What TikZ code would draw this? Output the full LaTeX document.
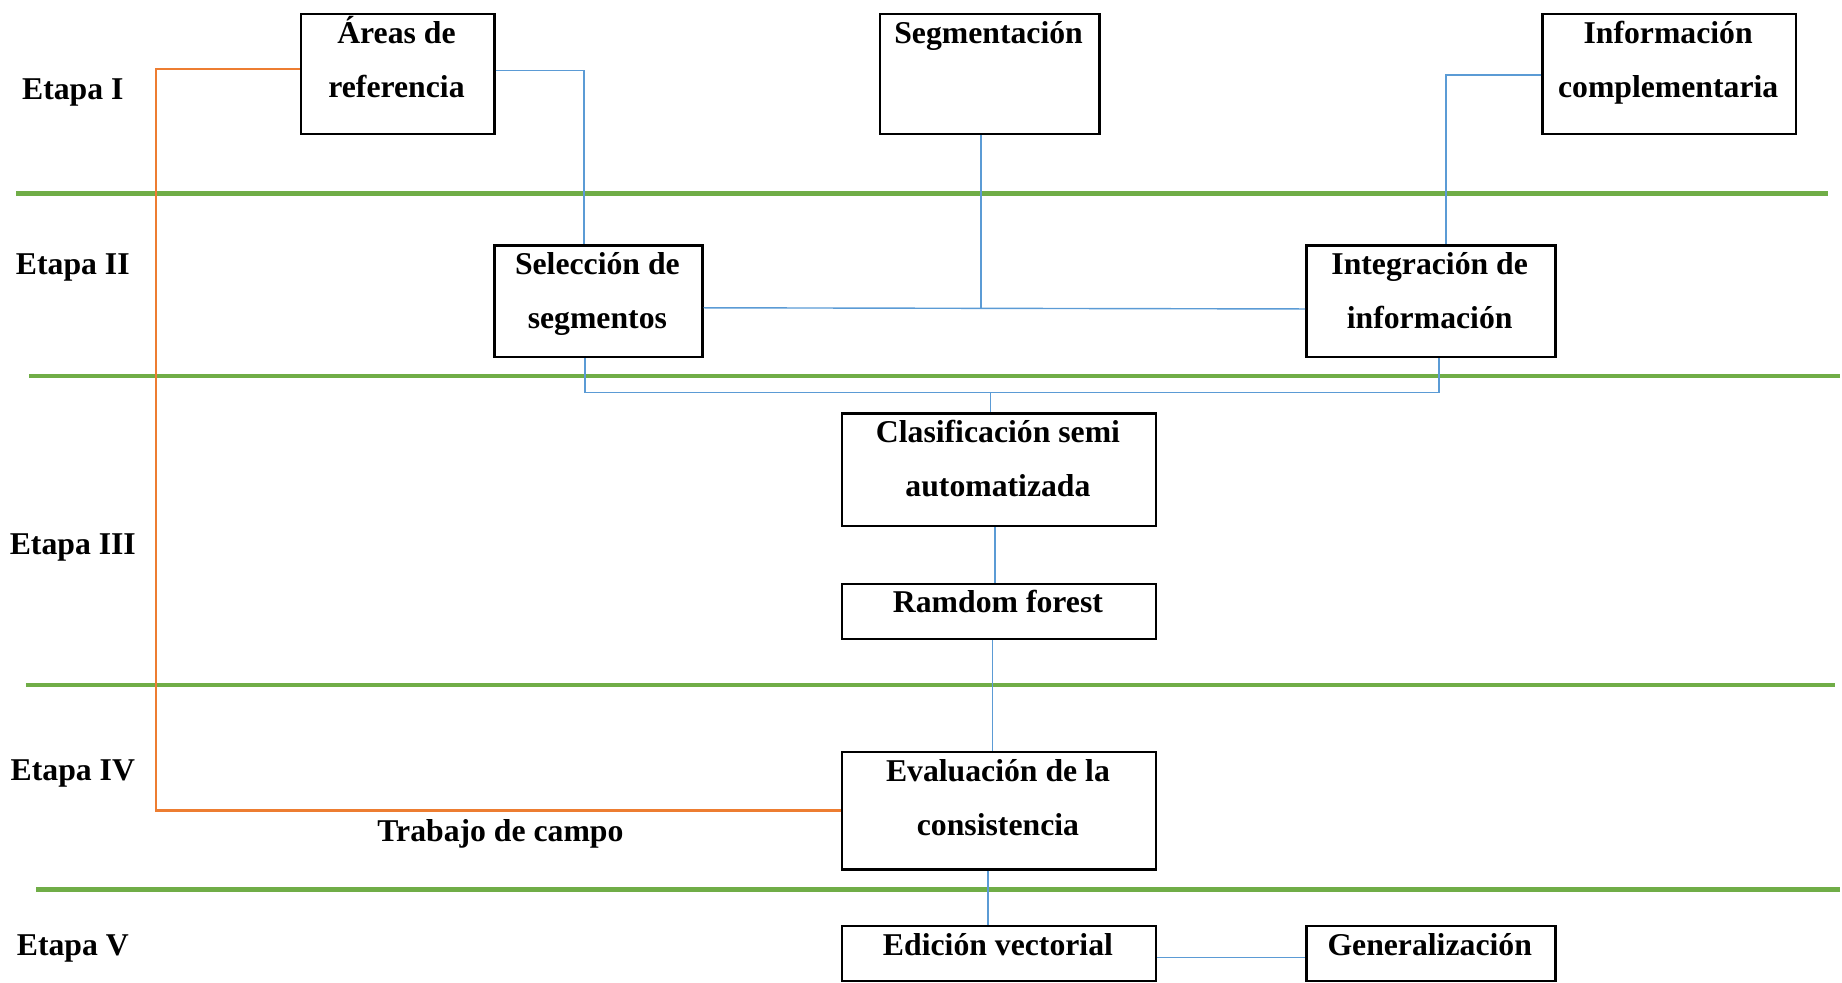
\documentclass[tikz,border=0pt]{standalone}
\usepackage{fontspec}
\setmainfont{Liberation Serif}
\definecolor{lgreen}{HTML}{70AD47}
\definecolor{lblue}{HTML}{5B9BD5}
\definecolor{lorange}{HTML}{ED7D31}
\begin{document}
\begin{tikzpicture}[x=0.5pt,y=-0.5pt,
 box/.style={draw=black, line width=1pt, inner sep=0pt, anchor=north west},
 txt/.style={font=\fontsize{13.5}{16}\selectfont\bfseries, inner sep=0pt, anchor=base},
 sepline/.style={draw=lgreen, line width=2pt},
 conn/.style={draw=lblue, line width=0.6pt},
 fld/.style={draw=lorange, line width=1pt}]
\useasboundingbox (0,0) rectangle (1568,836);

% stage separators
\draw[sepline] (14,165) -- (1556,165);
\draw[sepline] (25,320) -- (1566,320);
\draw[sepline] (22,583) -- (1562,583);
\draw[sepline] (31,757) -- (1566,757);

% boxes
\node[box, minimum width=82.5pt, minimum height=51pt] (areas) at (255,11) {};
\node[box, minimum width=93.5pt, minimum height=51pt] (seg) at (748,11) {};
\node[box, minimum width=108pt, minimum height=51pt] (info) at (1312,11) {};
\node[box, minimum width=88.5pt, minimum height=47.5pt] (sel) at (420,208) {};
\node[box, minimum width=106pt, minimum height=47.5pt] (integ) at (1111,208) {};
\node[box, minimum width=133.5pt, minimum height=48pt] (clas) at (716,351) {};
\node[box, minimum width=133.5pt, minimum height=23.5pt] (rf) at (716,496) {};
\node[box, minimum width=133.5pt, minimum height=50pt] (eval) at (716,639) {};
\node[box, minimum width=133.5pt, minimum height=23.5pt] (edit) at (716,787) {};
\node[box, minimum width=106pt, minimum height=23.5pt] (gen) at (1111,787) {};

% box texts
\node[txt] (areas-a) at (337.5,37) {Áreas de};
\node[txt] (areas-b) at (337.5,83) {referencia};
\node[txt] (seg-a) at (841.5,37) {Segmentación};
\node[txt] (info-a) at (1420,37) {Información};
\node[txt] (info-b) at (1420,83) {complementaria};
\node[txt] (sel-a) at (508.5,234) {Selección de};
\node[txt] (sel-b) at (508.5,280) {segmentos};
\node[txt] (integ-a) at (1217,234) {Integración de};
\node[txt] (integ-b) at (1217,280) {información};
\node[txt] (clas-a) at (849.5,377) {Clasificación semi};
\node[txt] (clas-b) at (849.5,423) {automatizada};
\node[txt] (rf-a) at (849.5,521) {Ramdom forest};
\node[txt] (eval-a) at (849.5,665) {Evaluación de la};
\node[txt] (eval-b) at (849.5,711) {consistencia};
\node[txt] (edit-a) at (849.5,813) {Edición vectorial};
\node[txt] (gen-a) at (1217,813) {Generalización};

% stage labels
\node[txt] (e1) at (62,85) {Etapa I};
\node[txt] (e2) at (62,234) {Etapa II};
\node[txt] (e3) at (62,472) {Etapa III};
\node[txt] (e4) at (62,664) {Etapa IV};
\node[txt] (e5) at (62,813) {Etapa V};
\node[txt] (tc) at (426,716) {Trabajo de campo};

% junction coordinates
\coordinate (j1) at (835,262);
\coordinate (b1) at (498,334);
\coordinate (b2) at (1225,334);
\coordinate (b3) at (843,334);
\coordinate (o1) at (133,59);
\coordinate (o2) at (133,690);

% blue connectors
\draw[conn] (areas.east |- 0,60) -| (sel.north -| 497,0);
\draw[conn] (info.west |- 0,64) -| (integ.north -| 1231,0);
\draw[conn] (seg.south -| j1) -- (j1);
\draw[conn] (sel.east |- 0,262) -- (integ.west |- 0,263);
\draw[conn] (sel.south -| b1) -- (b1) -- (b2) -- (integ.south -| b2);
\draw[conn] (b3) -- (clas.north -| b3);
\draw[conn] (clas.south -| 847,0) -- (rf.north -| 847,0);
\draw[conn] (rf.south -| 845,0) -- (eval.north -| 845,0);
\draw[conn] (eval.south -| 841,0) -- (edit.north -| 841,0);
\draw[conn] (edit.east |- 0,815) -- (gen.west |- 0,815);

% orange field-work connector
\draw[fld] (areas.west |- o1) -- (o1) -- (o2) -- (eval.west |- o2);
\end{tikzpicture}
\end{document}
